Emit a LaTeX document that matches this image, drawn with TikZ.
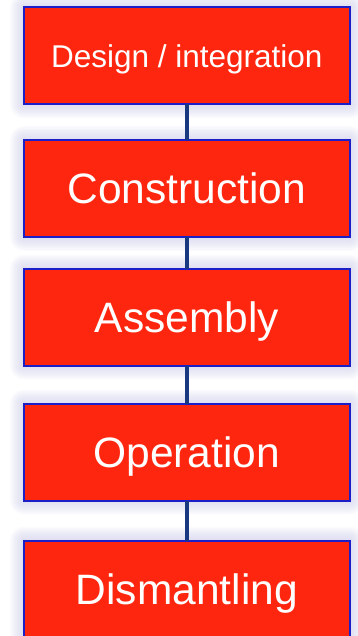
\documentclass[tikz,border=0pt]{standalone}
\usepackage{fontspec}
\setmainfont{Liberation Sans}
\usetikzlibrary{backgrounds}
\definecolor{stagefill}{RGB}{255,38,16}
\definecolor{stageedge}{RGB}{28,30,200}
\definecolor{linkcol}{RGB}{24,56,128}
\definecolor{glowcol}{RGB}{200,200,232}
\tikzset{
  stagebox/.style={rectangle, fill=stagefill, draw=stageedge, line width=2pt,
    minimum width=326pt, minimum height=97pt, inner sep=0pt, outer sep=0pt,
    text=white, text height=30.4pt, text depth=0pt,
    font=\fontsize{42.5}{50}\selectfont},
  smalltext/.style={text height=22.6pt, font=\fontsize{31.5}{38}\selectfont},
  link/.style={draw=linkcol, line width=3.5pt},
  glowlayer/.style={fill=glowcol, fill opacity=0.06}
}
\begin{document}
\begin{tikzpicture}[x=1pt, y=-1pt]
  \useasboundingbox (0,0) rectangle (358,636);
  \node[stagebox, smalltext] (design) at (186.8,56) {Design / integration};
  \node[stagebox] (constr) at (186.8,188.5) {Construction};
  \node[stagebox] (assem)  at (186.8,317) {Assembly};
  \node[stagebox] (oper)   at (186.8,452) {Operation};
  \node[stagebox] (dism)   at (186.8,589) {Dismantling};
  % soft halo behind every stage
  \begin{scope}[on background layer]
    \foreach \b in {design,constr,assem,oper,dism}{
      \foreach \k in {1,...,14}{
        \fill[glowlayer, rounded corners=\k pt]
          ([shift={(-\k pt,\k pt)}]\b.north west) rectangle
          ([shift={(\k pt,-\k pt)}]\b.south east);
      }
    }
  \end{scope}
  \draw[link] (design.south) -- (constr.north);
  \draw[link] (constr.south) -- (assem.north);
  \draw[link] (assem.south) -- (oper.north);
  \draw[link] (oper.south) -- (dism.north);
\end{tikzpicture}
\end{document}
